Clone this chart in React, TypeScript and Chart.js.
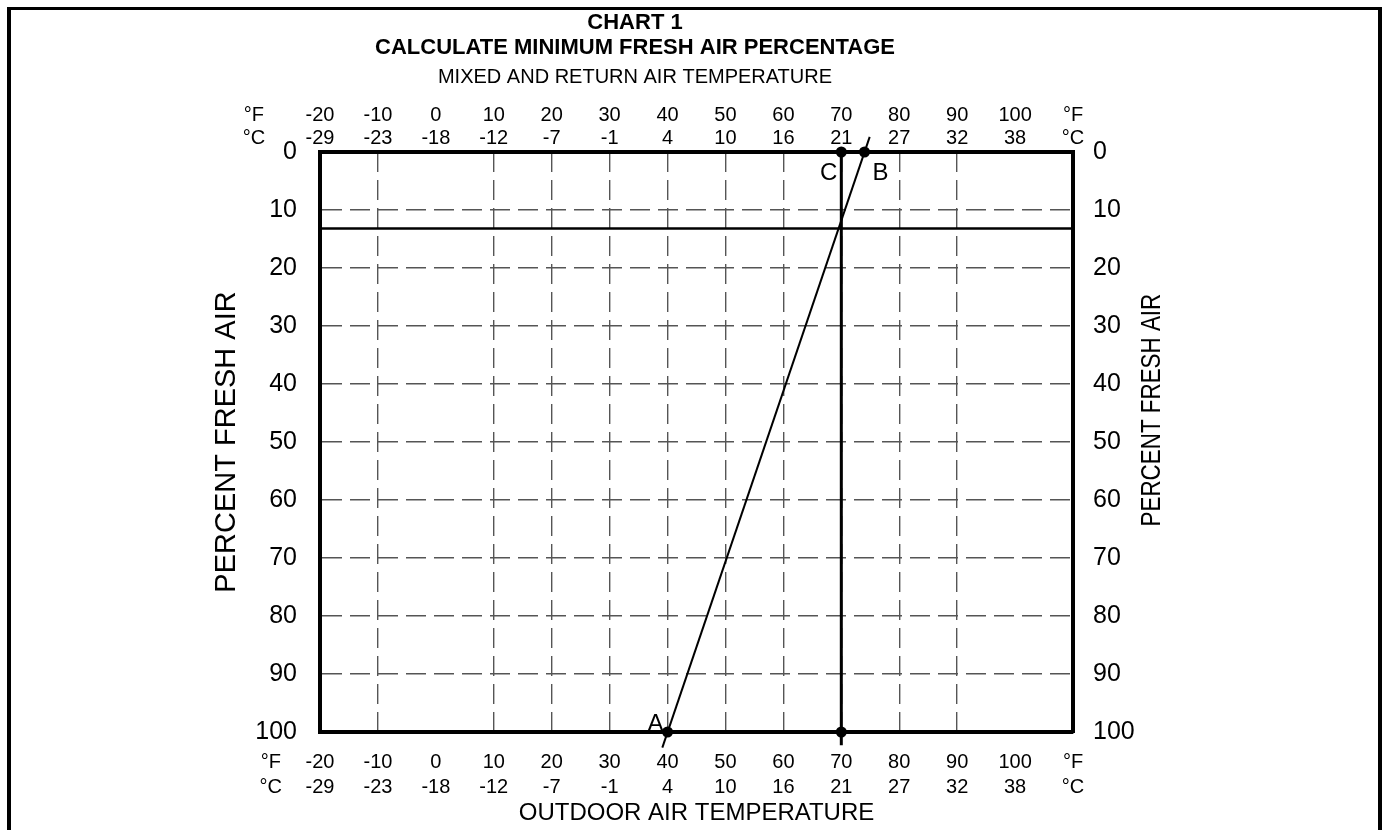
import React, { useEffect, useRef } from 'react';
import { Chart, registerables } from 'chart.js';

Chart.register(...registerables);

// ---- data ----
const tempF = [-20, -10, 0, 10, 20, 30, 40, 50, 60, 70, 80, 90, 100];
const tempC = [-29, -23, -18, -12, -7, -1, 4, 10, 16, 21, 27, 32, 38];
const unitLabels = ['°F', '°C'];
const tempMin = -20;
const tempMax = 110;
const percentTicks = [0, 10, 20, 30, 40, 50, 60, 70, 80, 90, 100];
const percentMin = 0;
const percentMax = 100;

const mixedAirPercent = 13.2; // horizontal line (percent fresh air)
const returnAirTemp = 70; // vertical line (°F)
const returnLinePcts = [0, 102.3];
const abLineTemps = [39.1, 74.9];
const abLinePcts = [102.7, -2.6];

const keyNames = ['A', 'B', 'C', ''];
const keyTemps = [40, 74, 70, 70];
const keyPcts = [100, 0, 0, 100];

const titleLines = ['CHART 1', 'CALCULATE MINIMUM FRESH AIR PERCENTAGE'];
const subtitleText = 'MIXED AND RETURN AIR TEMPERATURE';
const xTitle = 'OUTDOOR AIR TEMPERATURE';
const yTitle = 'PERCENT FRESH AIR';

// ---- styles ----
const FONT = '"Liberation Sans", Arial, Helvetica, sans-serif';
const CANVAS_W = 1270;
const CANVAS_H = 830;

const letterOffsets: Record<string, { dx: number; dy: number; align: CanvasTextAlign }> = {
  A: { dx: -4, dy: -1, align: 'right' },
  B: { dx: 8, dy: 28, align: 'left' },
  C: { dx: -4, dy: 28, align: 'right' },
};

const xTickLabel = (value: number) => {
  const i = tempF.indexOf(value);
  if (i >= 0) return [String(tempF[i]), String(tempC[i])];
  if (value === tempMax) return unitLabels;
  return '';
};

const setXTicks = (axis: any) => {
  axis.ticks = [...tempF, tempMax].map((v) => ({ value: v }));
};
const setYTicks = (axis: any) => {
  axis.ticks = percentTicks.map((v) => ({ value: v }));
};

const gridColor = (ctx: any) => {
  const v = ctx.tick ? ctx.tick.value : null;
  if (v === tempMin || v === tempMax || v === percentMin || v === percentMax) return 'rgba(0,0,0,0)';
  return '#555';
};

const textPlugin = {
  id: 'chartTexts',
  afterDraw(chart: any) {
    const { ctx, chartArea: a, scales } = chart;
    const xs = scales.x;
    const ys = scales.y;
    ctx.save();
    ctx.fillStyle = '#000';
    ctx.textAlign = 'center';
    ctx.textBaseline = 'middle';
    ctx.font = `20px ${FONT}`;
    const topUnitX = xs.getPixelForValue(-31.4);
    const botUnitX = xs.getPixelForValue(-28.5);
    ctx.fillText(unitLabels[0], topUnitX, a.top - 37);
    ctx.fillText(unitLabels[1], topUnitX, a.top - 14);
    ctx.fillText(unitLabels[0], botUnitX, a.bottom + 30);
    ctx.fillText(unitLabels[1], botUnitX, a.bottom + 55);

    // right axis title (reads bottom-to-top)
    ctx.save();
    ctx.translate(a.right + 79, ys.getPixelForValue(44.5));
    ctx.rotate(-Math.PI / 2);
    ctx.scale(0.8, 1);
    ctx.font = `28px ${FONT}`;
    ctx.fillText(yTitle, 0, 0);
    ctx.restore();

    // point letters
    ctx.font = `24px ${FONT}`;
    ctx.textBaseline = 'alphabetic';
    keyNames.forEach((n, i) => {
      if (!n) return;
      const o = letterOffsets[n];
      const px = xs.getPixelForValue(keyTemps[i]);
      const py = ys.getPixelForValue(keyPcts[i]);
      ctx.textAlign = o.align;
      ctx.fillText(n, px + o.dx, py + o.dy);
    });
    ctx.restore();
  },
};

export default function App() {
  const ref = useRef<HTMLCanvasElement>(null);

  useEffect(() => {
    Chart.defaults.font.family = FONT;
    Chart.defaults.color = '#000';

    const chart = new Chart(ref.current as HTMLCanvasElement, {
      type: 'scatter',
      data: {
        datasets: [
          {
            label: 'Mixed air',
            data: [
              { x: tempMin, y: mixedAirPercent },
              { x: tempMax, y: mixedAirPercent },
            ],
            showLine: true,
            borderColor: '#000',
            borderWidth: 2.5,
            pointRadius: 0,
          },
          {
            label: 'Return air',
            data: returnLinePcts.map((p) => ({ x: returnAirTemp, y: p })),
            showLine: true,
            borderColor: '#000',
            borderWidth: 3,
            pointRadius: 0,
            clip: false,
          },
          {
            label: 'A-B',
            data: abLineTemps.map((t, i) => ({ x: t, y: abLinePcts[i] })),
            showLine: true,
            borderColor: '#000',
            borderWidth: 2,
            pointRadius: 0,
            clip: false,
          },
          {
            label: 'Points',
            data: keyTemps.map((t, i) => ({ x: t, y: keyPcts[i] })),
            showLine: false,
            pointRadius: 5.5,
            pointBackgroundColor: '#000',
            pointBorderColor: '#000',
            pointBorderWidth: 0,
            clip: false,
          },
        ],
      },
      options: {
        responsive: false,
        animation: false,
        devicePixelRatio: 1,
        events: [],
        layout: { padding: 0, autoPadding: false },
        plugins: {
          legend: { display: false },
          tooltip: { enabled: false },
          title: {
            display: true,
            text: titleLines,
            color: '#000',
            font: { size: 22, weight: 'bold', lineHeight: 25 / 22 },
            padding: { top: 10.5, bottom: 0 },
          },
          subtitle: {
            display: true,
            text: subtitleText,
            color: '#000',
            font: { size: 20, weight: 'normal', lineHeight: 1.2 },
            padding: { top: 4.5, bottom: 0 },
          },
        },
        scales: {
          x: {
            type: 'linear',
            position: 'bottom',
            min: tempMin,
            max: tempMax,
            afterBuildTicks: setXTicks,
            afterFit: (s: any) => {
              s.height = 98;
            },
            grid: { display: true, drawTicks: false, color: gridColor, lineWidth: 1.4 },
            border: { display: true, color: '#000', width: 4, dash: [20, 8] },
            ticks: {
              autoSkip: false,
              maxRotation: 0,
              padding: 17.5,
              color: '#000',
              font: { size: 20, lineHeight: 25 / 20 },
              callback: (v: any) => xTickLabel(Number(v)),
            },
            title: {
              display: true,
              text: xTitle,
              color: '#000',
              font: { size: 24, lineHeight: 1.2 },
              padding: { top: 0, bottom: 2 },
            },
          },
          xTop: {
            type: 'linear',
            position: 'top',
            min: tempMin,
            max: tempMax,
            afterBuildTicks: setXTicks,
            afterFit: (s: any) => {
              s.height = 63;
            },
            grid: { display: false, drawTicks: false },
            border: { display: true, color: '#000', width: 4 },
            ticks: {
              autoSkip: false,
              maxRotation: 0,
              padding: 2.5,
              color: '#000',
              font: { size: 20, lineHeight: 23 / 20 },
              callback: (v: any) => xTickLabel(Number(v)),
            },
          },
          y: {
            type: 'linear',
            position: 'left',
            reverse: true,
            min: percentMin,
            max: percentMax,
            afterBuildTicks: setYTicks,
            afterFit: (s: any) => {
              s.width = 320;
            },
            grid: { display: true, drawTicks: false, color: gridColor, lineWidth: 1.4 },
            border: { display: true, color: '#000', width: 4, dash: [20, 8] },
            ticks: {
              padding: 23,
              color: '#000',
              font: { size: 25 },
              callback: (v: any) => String(v),
            },
            title: {
              display: true,
              text: yTitle,
              color: '#000',
              font: { size: 29, lineHeight: 1.2 },
              padding: { top: 209.6, bottom: 0 },
            },
          },
          yRight: {
            type: 'linear',
            position: 'right',
            reverse: true,
            min: percentMin,
            max: percentMax,
            afterBuildTicks: setYTicks,
            afterFit: (s: any) => {
              s.width = CANVAS_W - 1073;
            },
            grid: { display: false, drawTicks: false },
            border: { display: true, color: '#000', width: 4 },
            ticks: {
              padding: 20,
              color: '#000',
              font: { size: 25 },
              callback: (v: any) => String(v),
            },
          },
        },
      },
      plugins: [textPlugin],
    } as any);

    return () => chart.destroy();
  }, []);

  return (
    <div style={{ position: 'fixed', inset: 0, overflow: 'hidden', background: '#fff' }}>
      <div
        style={{
          position: 'absolute',
          left: 7,
          top: 7,
          width: 1375,
          height: 1000,
          border: '4px solid #000',
          borderTopWidth: 3,
          boxSizing: 'border-box',
        }}
      />
      <canvas
        ref={ref}
        width={CANVAS_W}
        height={CANVAS_H}
        style={{ position: 'absolute', left: 0, top: 0, width: CANVAS_W, height: CANVAS_H }}
      />
    </div>
  );
}
